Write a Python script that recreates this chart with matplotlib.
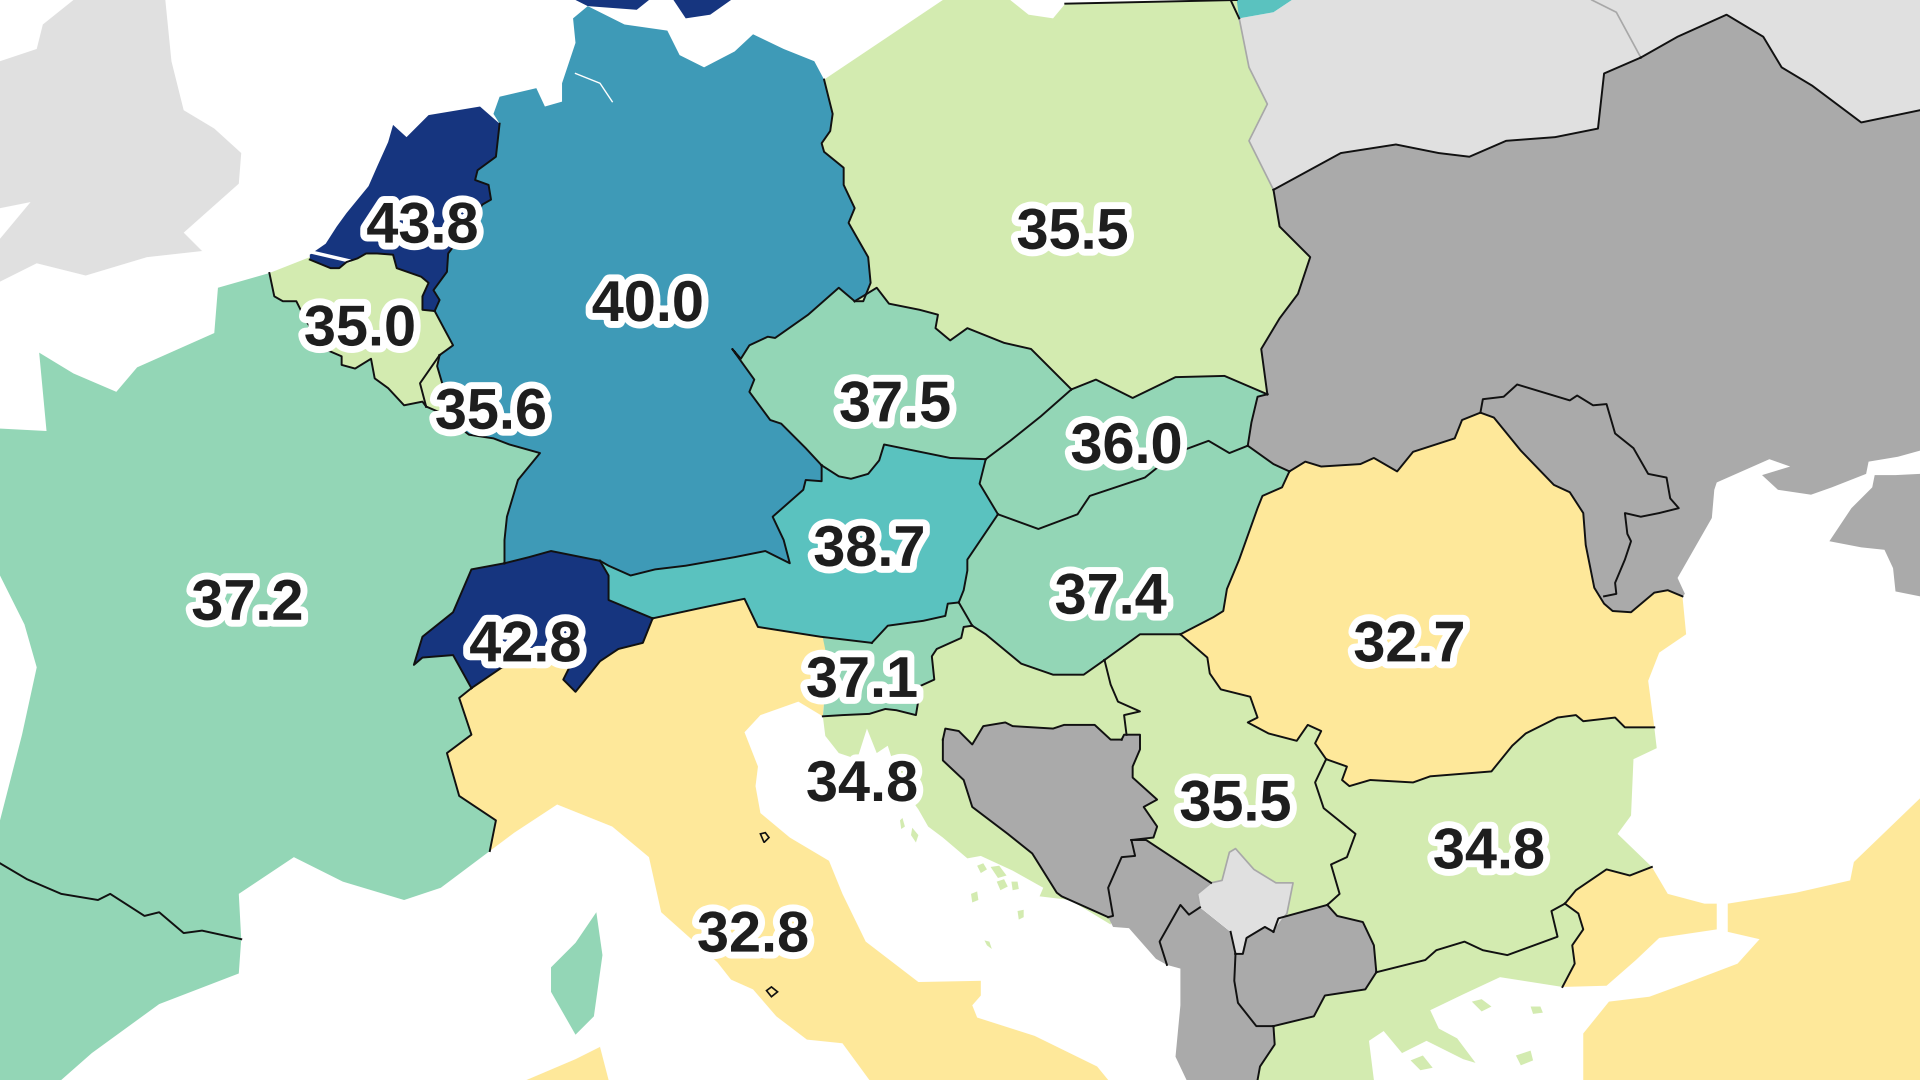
import matplotlib
matplotlib.use("Agg")
import matplotlib.pyplot as plt
import matplotlib.patheffects as pe
from matplotlib.patches import Polygon

# ---------- values ----------
label_values = ["43.8", "40.0", "35.5", "35.0", "35.6", "37.5", "36.0", "38.7", "37.4",
                "37.2", "42.8", "32.7", "37.1", "34.8", "35.5", "34.8", "32.8"]
label_x = [345, 529, 876, 294, 401, 731, 920, 710, 907, 202, 429, 1151, 704, 704, 1009, 1216, 615]
label_y = [181, 245, 186, 265, 333, 327, 361, 445, 484, 489, 523, 523, 552, 637, 653, 692, 760]

C_NAVY, C_BLUE, C_TEAL, C_MINT, C_LIME, C_SAND = "#16357f", "#3e9ab7", "#5ac2bf", "#93d6b6", "#d3ebb0", "#fee89a"
C_NODATA, C_OUT = "#aaaaaa", "#e0e0e0"

# ---------- shared borders (map coordinates) ----------
fr_es = [(0,705),(22,718),(50,730),(80,735),(90,730),(118,748),(130,745),(150,762),(165,760),(197,767)]
fr_be = [(220,223),(224,242),(231,246),(242,246),(250,262),(265,285),(279,291),(279,298),(290,301),(303,293),(306,309),(317,317),(330,331),(345,328),(348,332)]
be_nl = [(253,212),(270,219),(277,219),(283,214),(292,211),(299,207),(308,207),(321,208),(324,219),(344,226),(350,231),(345,242),(345,253),(355,254)]
nl_de = [(408,101),(405,128),(390,139),(388,147),(399,151),(401,163),(394,167),(375,195),(366,207),(365,222),(354,237),(359,245),(355,254)]
be_de = [(355,254),(363,269),(370,282),(359,290)]
be_lu = [(359,290),(343,313),(348,332)]
lu_de = [(359,290),(357,299),(362,316),(370,345)]
lu_fr = [(348,332),(362,338),(370,345)]
fr_de = [(370,345),(383,355),(403,358),(416,363),(441,370),(423,392),(414,422),(412,441),(412,460)]
de_ch = [(412,460),(432,455),(450,450),(460,452),(490,458)]
fr_ch = [(412,460),(385,465),(370,500),(345,520),(338,543),(345,537),(370,535),(385,562)]
ch_it = [(385,562),(410,545),(440,540),(465,545),(460,555),(470,565),(490,540),(505,530),(525,525),(533,505)]
ch_au = [(490,458),(497,470),(497,490),(533,505)]
fr_it = [(385,562),(375,570),(385,600),(365,615),(375,650),(405,670),(400,695)]
de_au = [(490,458),(497,462),(515,470),(535,465),(560,462),(600,455),(625,450),(645,460),(640,441),(631,422),(656,400),(658,392),(671,393),(671,380)]
de_cz = [(671,380),(658,366),(638,346),(629,343),(612,320),(616,310),(598,285),(605,293),(612,282),(627,275),(633,276),(660,257),(685,235),(698,246)]
de_pl = [(673,65),(680,93),(678,107),(671,117),(673,124),(689,137),(689,151),(698,170),(693,182),(709,210),(711,231),(705,246),(698,246)]
cz_pl = [(698,246),(716,235),(726,248),(751,253),(766,257),(764,268),(776,278),(790,268),(820,280),(842,285),(875,318)]
cz_sk = [(875,318),(850,340),(825,360),(805,375)]
cz_au = [(671,380),(685,389),(695,391),(709,387),(718,376),(722,363),(776,374),(805,375)]
au_sk = [(805,375),(800,395),(815,420)]
sk_hu = [(815,420),(848,432),(880,420),(890,405),(935,390),(960,370),(987,360),(1004,370),(1019,364)]
au_hu = [(815,420),(790,457),(790,466),(787,482),(783,492)]
au_si = [(783,492),(774,493),(772,503),(754,507),(725,511),(712,525)]
au_it = [(712,525),(670,520),(619,512),(608,489),(570,497),(533,505)]
si_it = [(672,521),(676,540),(672,585)]
si_hu = [(783,492),(794,511)]
si_hr = [(794,511),(787,512),(785,521),(765,530),(761,536),(763,555),(752,560),(748,584),(732,580),(723,579),(710,583),(688,584),(672,585)]
hr_hu = [(794,511),(805,518),(834,542),(860,551),(885,551),(902,539)]
hu_rs = [(902,539),(931,518),(964,518)]
hu_ro = [(1053,385),(1047,398),(1031,405),(1027,415),(1012,457),(1002,481),(999,499),(991,504),(964,518)]
hu_ua = [(1019,364),(1040,379),(1053,385)]
pl_sk = [(875,318),(895,310),(925,325),(960,308),(1000,307),(1035,322)]
sk_ua = [(1035,322),(1027,324),(1022,345),(1019,364)]
pl_ua = [(1040,155),(1045,185),(1070,210),(1060,240),(1045,260),(1030,285),(1035,322)]
pl_by = [(1012,15),(1020,55),(1035,85),(1020,115),(1040,155)]
by_ua = [(1040,155),(1095,125),(1140,118),(1175,125),(1200,128),(1230,115),(1270,112),(1305,105),(1310,60),(1340,47)]
ru_ua = [(1340,47),(1370,30),(1410,12),(1440,30),(1455,55),(1480,70),(1520,100),(1568,90)]
by_ru = [(1300,0),(1320,10),(1340,47)]
ro_ua = [(1053,385),(1066,377),(1079,381),(1111,379),(1122,374),(1141,385),(1154,369),(1188,358),(1194,343),(1209,337),(1220,341),(1242,368),(1269,396),(1282,402),(1293,419),(1295,445),(1302,480),(1310,493),(1317,499),(1332,500),(1351,484),(1362,482),(1374,487)]
md_ua = [(1209,337),(1211,326),(1228,324),(1239,314),(1282,327),(1288,323),(1301,331),(1312,330),(1319,354),(1334,366),(1346,387),(1361,390),(1364,407),(1371,415),(1355,419),(1340,422),(1327,419),(1329,436),(1332,442),(1327,457),(1319,476),(1320,485),(1310,487)]
ro_bg = [(1351,594),(1327,594),(1319,586),(1293,589),(1287,584),(1272,586),(1246,599),(1235,609),(1218,630),(1168,634),(1154,639),(1119,637),(1102,642),(1096,637),(1100,626),(1083,620)]
ro_rs = [(1083,620),(1074,607),(1079,597),(1068,592),(1059,605),(1036,599),(1019,590),(1027,586),(1021,569),(997,563),(988,550),(986,537),(964,518)]
bg_rs = [(1083,620),(1074,639),(1081,660),(1107,681),(1100,700),(1087,706),(1094,730),(1084,739)]
bg_mk = [(1084,739),(1092,748),(1113,753),(1122,772),(1124,794)]
bg_gr = [(1124,794),(1164,784),(1173,776),(1196,769),(1211,776),(1231,780),(1272,765),(1267,744),(1278,738)]
bg_tr = [(1278,738),(1287,727),(1312,710),(1331,715),(1349,708)]
gr_tr = [(1278,738),(1289,746),(1293,759),(1284,772),(1286,787),(1276,806)]
mk_gr = [(1124,794),(1115,808),(1082,813),(1073,830),(1040,838)]
mk_al = [(1040,838),(1026,838),(1011,819),(1008,801),(1009,779)]
mk_rs = [(1084,739),(1044,750),(1040,761)]
mk_ks = [(1040,761),(1033,757),(1018,766),(1015,779),(1009,779)]
ks_rs = [(1040,761),(1051,746),(1056,721),(1042,721),(1024,710),(1009,693),(1004,696),(998,719),(989,721)]
ks_al = [(1009,779),(1005,761),(980,741)]
ks_me = [(980,741),(978,730),(989,721)]
me_rs = [(989,721),(936,686),(924,686)]
me_al = [(980,741),(971,747),(964,739),(947,769),(953,788)]
ba_me = [(924,686),(927,699),(916,700),(905,725),(909,748),(905,749)]
ba_rs = [(916,604),(918,600),(931,600),(931,612),(925,626),(925,635),(945,653),(934,659),(945,675),(942,684),(924,686)]
hr_ba_n = [(770,604),(772,595),(783,597),(794,608),(803,593),(821,590),(827,593),(860,595),(869,592),(894,592),(907,604),(916,604)]
hr_ba_s = [(905,749),(867,732),(863,729),(843,697),(823,681),(794,659),(787,637),(770,621),(770,604)]
hr_rs = [(902,539),(907,559),(913,573),(931,581),(918,584),(920,600)]
al_gr = [(1040,838),(1041,853),(1029,871),(1027,882)]

# ---------- coasts and whole areas ----------
france = [(0,350),(38,352),(32,288),(60,305),(95,320),(112,300),(175,272),(178,235),(220,223)] + fr_be + lu_fr + fr_de + fr_ch + fr_it + \
         [(360,725),(330,735),(280,720),(240,700),(195,730)] + fr_es[::-1] + [(0,670),(18,600),(30,545),(20,510),(0,470)]
spain = fr_es + [(195,795),(130,820),(75,860),(50,882),(0,882)]
corsica = [(450,790),(470,770),(487,745),(492,780),(485,830),(470,845),(450,810)]
uk = [(0,50),(30,40),(35,20),(60,0),(135,0),(140,50),(150,90),(175,105),(197,125),(195,150),(150,190),(165,205),(120,210),(70,225),(30,215),(0,230),(0,195),(25,165),(0,170)]
germany = [(408,101),(403,93),(408,79),(438,72),(445,87),(459,83),(459,68),(470,35),(468,15),(480,5),(510,20),(545,25),(555,45),(575,55),(600,42),(615,28),(640,40),(665,50),(673,65)] + \
          de_pl[1:] + de_cz[::-1] + de_au[::-1] + de_ch[::-1] + fr_de[::-1] + lu_de[::-1] + be_de[::-1] + nl_de[::-1]
netherlands = [(317,116),(321,102),(332,112),(350,94),(392,87),(408,101)] + nl_de[1:] + be_nl[::-1] + [(253,208),(266,199),(275,185),(283,174),(301,152),(308,136)]
belgium = [(220,223),(253,210),(253,212)] + be_nl[1:] + be_de[1:] + be_lu[1:] + fr_be[::-1]
luxembourg = be_lu + lu_fr[1:] + lu_de[::-1]
switzerland = fr_ch + ch_it + ch_au[::-1] + de_ch[::-1]
italy = fr_it[::-1] + ch_it + au_it[::-1] + si_it[1:] + [(652,573),(621,584),(608,598),(619,626),(617,642),(621,664),(645,684),(677,703),(688,730),(707,769),(750,802),(801,801),(801,813),(794,821),(798,831),(845,846),(896,871),(905,882),(710,882),(688,852),(659,849),(634,830),(615,808),(597,800),(586,786),(540,745),(530,700),(500,675),(455,657),(420,680)]
sardinia = [(430,882),(470,865),(490,855),(497,882)]
austria = ch_au + au_it[::-1] + au_si[::-1] + au_hu[::-1] + au_sk[::-1] + cz_au[::-1] + de_au[::-1]
czechia = de_cz + cz_pl[1:] + cz_sk[1:] + cz_au[::-1][1:]
poland = [(673,65),(770,0),(825,0),(840,12),(860,15),(870,3),(1010,0)] + pl_by + pl_ua[1:] + pl_sk[::-1][1:] + cz_pl[::-1][1:] + de_pl[::-1][1:]
slovakia = cz_sk + au_sk[1:] + sk_hu[1:] + sk_ua[::-1][1:] + pl_sk[::-1]
hungary = au_hu + si_hu[1:] + hr_hu[1:] + hu_rs[1:] + hu_ro[::-1][1:] + hu_ua[::-1][1:] + sk_hu[::-1][1:]
slovenia = si_it + si_hr[::-1][1:] + si_hu[::-1][1:] + au_si[1:] + [(672,521)]
croatia = si_hr + [(674,601),(685,615),(700,620),(708,595),(716,615),(725,609),(735,640),(750,661),(758,675),(770,684),(790,701),(801,699),(827,711),(852,725),(849,732),(874,735),(907,755),(909,748),(905,725),(930,640),(920,600)] + hr_rs[::-1][1:] + hr_hu[::-1][1:]
serbia = hu_rs + ro_rs[::-1][1:] + bg_rs + mk_rs[1:] + ks_rs[1:] + me_rs[1:] + ba_rs[::-1][1:] + [(920,600)] + hr_rs[::-1][1:]
bosnia = hr_ba_n + ba_rs + ba_me[1:] + hr_ba_s[1:]
montenegro = [(924,686)] + me_rs[::-1][1:] + ks_me[::-1][1:] + me_al + [(944,783),(922,758),(909,757),(905,749)] + ba_me[::-1][1:]
albania = [(964,739),(971,747),(980,741)] + ks_al[::-1][1:] + mk_al[::-1][1:] + al_gr + [(969,882),(960,863),(964,821),(964,791),(953,788),(947,769)]
kosovo = ks_rs + ks_me[::-1][1:] + ks_al[::-1][1:] + mk_ks[::-1][1:]
macedonia = mk_rs + mk_ks[1:] + mk_al[::-1][1:] + mk_gr[::-1][1:] + bg_mk[::-1][1:]
romania = hu_ro[::-1] + ro_ua + [(1377,518),(1355,533),(1346,556),(1351,594)] + ro_bg[1:] + ro_rs[1:]
bulgaria = bg_rs + bg_mk[1:] + bg_gr[1:] + bg_tr[1:] + [(1321,681),(1332,666),(1334,620),(1353,611),(1351,594)] + ro_bg[1:]
greece = [(1027,882)] + al_gr[::-1][1:] + mk_gr[::-1][1:] + bg_gr[1:] + gr_tr[1:] + [(1225,798),(1195,812),(1168,825),(1175,840),(1190,848),(1205,868),(1195,865),(1165,850),(1145,860),(1130,842),(1118,850),(1122,882)]
turkey_eu = bg_tr + [(1362,730),(1392,738),(1402,738),(1402,759),(1355,766),(1336,784),(1312,805)] + gr_tr[::-1]
turkey_as = [(1411,738),(1467,729),(1511,719),(1514,704),(1568,652),(1568,882),(1293,882),(1293,844),(1314,818),(1347,814),(1377,803),(1419,787),(1437,767),(1411,761)]
ukraine = by_ua + ru_ua[1:] + [(1568,368),(1550,373),(1526,377),(1524,387),(1496,398),(1479,404),(1452,400),(1439,388),(1462,381),(1445,375),(1402,394),(1400,400),(1398,423),(1370,472),(1376,485),(1374,487)] + ro_ua[::-1][1:] + hu_ua[::-1][1:] + sk_ua[::-1][1:] + pl_ua[::-1][1:]
crimea = [(1568,387),(1548,388),(1531,388),(1529,398),(1512,415),(1494,442),(1520,447),(1539,449),(1546,464),(1548,483),(1568,487)]
belarus = pl_by + by_ua[1:] + by_ru[::-1][1:] + [(1300,0),(1055,0),(1040,10)]
russia = by_ru + ru_ua[1:] + [(1568,0)]
lithuania = [(1005,0),(1012,15),(1040,10),(1055,0)]
denmark_w = [(470,0),(480,5),(520,8),(530,0)]
denmark_e = [(550,0),(560,15),(580,12),(597,0)]
hr_islands = [[(798,707),(803,705),(806,710),(801,713)],[(809,708),(816,707),(822,715),(815,717)],[(814,720),(820,718),(823,724),(817,727)],[(826,720),(831,720),(832,726),(827,727)],[(793,730),(798,728),(799,735),(794,737)],[(831,744),(836,743),(836,749),(832,751)],[(804,768),(808,769),(810,775),(806,772)],[(735,670),(737,668),(739,675),(736,677)],[(745,676),(750,682),(748,688),(744,682)]]
gr_islands = [[(1202,818),(1210,816),(1218,822),(1210,826)],[(1250,822),(1258,822),(1260,827),(1252,828)],[(1152,866),(1162,862),(1170,872),(1160,874)],[(1238,862),(1250,858),(1252,866),(1242,870)]]
small_it = [[(621,681),(625,680),(628,684),(624,688)],[(626,809),(630,806),(635,810),(630,814)]]

fills = [(uk, C_OUT), (belarus, C_OUT), (russia, C_OUT), (lithuania, C_TEAL), (denmark_w, C_NAVY), (denmark_e, C_NAVY),
         (france, C_MINT), (spain, C_MINT), (corsica, C_MINT), (germany, C_BLUE), (netherlands, C_NAVY),
         (belgium, C_LIME), (luxembourg, C_LIME), (italy, C_SAND), (sardinia, C_SAND), (switzerland, C_NAVY),
         (austria, C_TEAL), (czechia, C_MINT), (poland, C_LIME), (slovakia, C_MINT), (hungary, C_MINT),
         (slovenia, C_MINT), (croatia, C_LIME), (serbia, C_LIME), (ukraine, C_NODATA), (crimea, C_NODATA),
         (bosnia, C_NODATA), (montenegro, C_NODATA), (albania, C_NODATA), (macedonia, C_NODATA), (kosovo, C_OUT),
         (romania, C_SAND), (bulgaria, C_LIME), (greece, C_LIME), (turkey_eu, C_SAND), (turkey_as, C_SAND)]

black_borders = [fr_es, fr_be, be_nl, nl_de, be_de, be_lu, lu_de, lu_fr, fr_de, de_ch, fr_ch, ch_it, ch_au, fr_it, de_au, de_cz,
                 de_pl, cz_pl, cz_sk, cz_au, au_sk, sk_hu, au_hu, au_si, au_it, si_hu, si_hr, hr_hu, hu_rs, hu_ro, hu_ua,
                 pl_sk, sk_ua, pl_ua, by_ua, ru_ua, ro_ua, md_ua, ro_bg, ro_rs, bg_rs, bg_mk, bg_gr, bg_tr, gr_tr, mk_gr,
                 mk_al, mk_rs, mk_ks, me_rs, me_al, ba_me, ba_rs, hr_ba_n, hr_ba_s, hr_rs, al_gr, ks_al[:2],
                 [(870,3),(1010,0)], [(1005,0),(1012,15)]]
grey_borders = [pl_by, by_ru, ks_rs, ks_me, mk_ks]

# ---------- drawing ----------
fig = plt.figure(figsize=(19.2, 10.8), dpi=100, facecolor="white")
ax = fig.add_axes([0, 0, 1, 1])
ax.set_xlim(0, 1568)
ax.set_ylim(882, 0)
ax.axis("off")

for pts, col in fills:
    ax.add_patch(Polygon(pts, closed=True, facecolor=col, edgecolor="none", zorder=2))

# channels of white in the land
ax.plot([470, 490, 500], [60, 68, 83], color="white", lw=1.0, zorder=3)
ax.plot([255, 285], [206, 213], color="white", lw=2.5, zorder=3)

for pts in hr_islands + gr_islands:
    ax.add_patch(Polygon(pts, closed=True, facecolor=C_LIME, edgecolor="none", zorder=3))
for pts in small_it:
    ax.add_patch(Polygon(pts, closed=True, facecolor=C_SAND, edgecolor="#111111", lw=1.2, zorder=5))

for line in grey_borders:
    ax.plot(*zip(*line), color="#a8a8a8", lw=1.2, solid_joinstyle="round", zorder=4)
for line in black_borders:
    ax.plot(*zip(*line), color="#111111", lw=1.4, solid_joinstyle="round", zorder=5)

for x, y, s in zip(label_x, label_y, label_values):
    ax.text(x, y, s, ha="center", va="center_baseline", fontsize=41.5, fontweight="bold",
            family="Liberation Sans", color="#1e1e1e", zorder=10,
            path_effects=[pe.withStroke(linewidth=10, foreground="white")])

fig.savefig("out.png", dpi=100, facecolor="white")
